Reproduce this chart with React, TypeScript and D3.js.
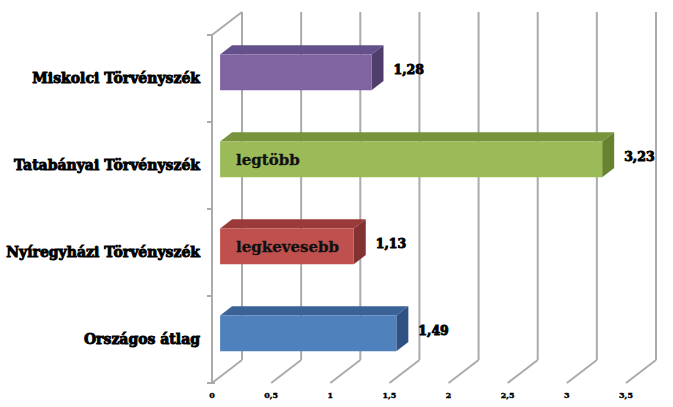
import * as d3 from "d3";

const categories = [
  "Miskolci Törvényszék",
  "Tatabányai Törvényszék",
  "Nyíregyházi Törvényszék",
  "Országos átlag",
];
const values = [1.28, 3.23, 1.13, 1.49];
const valueLabels = ["1,28", "3,23", "1,13", "1,49"];
const innerLabels = ["", "legtöbb", "legkevesebb", ""];
const ticks = [0, 0.5, 1, 1.5, 2, 2.5, 3, 3.5];
const tickLabels = ["0", "0,5", "1", "1,5", "2", "2,5", "3", "3,5"];

// front / top / side colours per bar
const faceColors = ["#8064a2", "#9bbb59", "#c0504d", "#4f81bd"];
const topColors = ["#64508a", "#77933c", "#9a3b39", "#3a6296"];
const sideColors = ["#4f3e6c", "#68832f", "#833231", "#2f5282"];

const W = 673;
const H = 407;
const DX = 30; // oblique depth offset
const DY = -23;
const GRID = "#ababab";
const FONT = "'DejaVu Serif', serif";

export default function App() {
  const x = d3.scaleLinear().domain([0, 3.5]).range([212, 626]);
  const y = d3.scaleBand<string>().domain(categories).range([35, 383]);
  const d1 = 0.27;
  const d2 = 0.67;
  const barH = y.bandwidth() * 0.41;

  const pt = (px: number, py: number, d: number) => [px + d * DX, py + d * DY];
  const poly = (pts: number[][]) => pts.map((p) => p.join(",")).join(" ");

  const yTop = y.range()[0];
  const yBot = y.range()[1];

  return (
    <div style={{ position: "fixed", left: 0, top: 0, background: "#fff" }}>
      <svg width={W} height={H} viewBox={`0 0 ${W} ${H}`}>
        <rect width={W} height={H} fill="#fff" />
        {/* back plane gridlines with floor diagonals */}
        {ticks.map((t, i) => {
          const [bx, by] = pt(x(t), yBot, 1);
          const [, ty] = pt(x(t), yTop, 1);
          return (
            <g key={i} stroke={GRID} strokeWidth={2} fill="none">
              <line x1={bx} y1={ty} x2={bx} y2={by} />
              <line x1={x(t)} y1={yBot} x2={bx} y2={by} />
            </g>
          );
        })}
        {/* left wall */}
        <g stroke={GRID} strokeWidth={2} fill="none">
          <line x1={x(0)} y1={yTop} x2={x(0)} y2={yBot} />
          <line x1={x(0)} y1={yTop} x2={x(0) + DX} y2={yTop + DY} />
          {[...categories.map((c) => y(c) as number), yBot].map((v, i) => (
            <line key={i} x1={x(0) - 5} y1={v} x2={x(0)} y2={v} />
          ))}
          <line x1={x(0)} y1={yBot} x2={x(0) + 3} y2={yBot} />
        </g>
        {/* bars */}
        {categories.map((c, i) => {
          const cy = (y(c) as number) + y.bandwidth() / 2;
          const y0 = cy - barH / 2;
          const y1 = cy + barH / 2;
          const x0 = x(0);
          const xv = x(values[i]);
          const f = [pt(x0, y0, d1), pt(xv, y0, d1), pt(xv, y1, d1), pt(x0, y1, d1)];
          const top = [pt(x0, y0, d1), pt(xv, y0, d1), pt(xv, y0, d2), pt(x0, y0, d2)];
          const side = [pt(xv, y0, d1), pt(xv, y0, d2), pt(xv, y1, d2), pt(xv, y1, d1)];
          const [sx] = pt(xv, y0, d2);
          const [, fcy] = pt(x0, cy, d1);
          return (
            <g key={c}>
              <polygon points={poly(top)} fill={topColors[i]} />
              <polygon points={poly(side)} fill={sideColors[i]} />
              <polygon points={poly(f)} fill={faceColors[i]} />
              {innerLabels[i] && (
                <text
                  x={f[0][0] + 16}
                  y={fcy}
                  dy="0.35em"
                  fontFamily={FONT}
                  fontWeight="bold"
                  fontSize={15}
                  fill="#111"
                  stroke="#111"
                  strokeWidth={0.3}
                >
                  {innerLabels[i]}
                </text>
              )}
              <text
                x={sx + 10}
                y={fcy - 3}
                dy="0.35em"
                fontFamily={FONT}
                fontWeight="bold"
                fontSize={12.5}
                fill="#000"
                stroke="#000"
                strokeWidth={0.9}
              >
                {valueLabels[i]}
              </text>
              <text
                x={200}
                y={cy}
                dy="0.35em"
                textAnchor="end"
                fontFamily={FONT}
                fontWeight="bold"
                fontSize={14}
                fill="#000"
                stroke="#000"
                strokeWidth={0.9}
              >
                {c}
              </text>
            </g>
          );
        })}
        {/* tick labels */}
        {ticks.map((t, i) => (
          <text
            key={i}
            x={x(t)}
            y={395}
            dy="0.35em"
            textAnchor="middle"
            fontFamily={FONT}
            fontWeight="bold"
            fontSize={8}
            fill="#000"
            stroke="#000"
            strokeWidth={0.4}
          >
            {tickLabels[i]}
          </text>
        ))}
      </svg>
    </div>
  );
}
